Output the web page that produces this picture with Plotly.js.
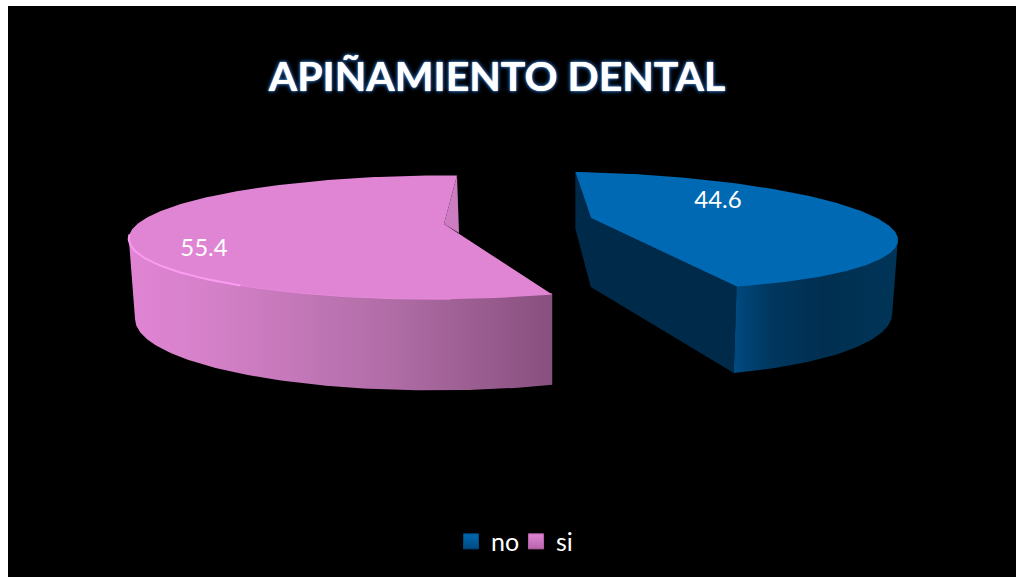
<!DOCTYPE html>
<html>
<head>
<meta charset="utf-8">
<script src="https://cdn.plot.ly/plotly-3.0.1.min.js"></script>
<style>html,body{margin:0;padding:0;background:#fff;overflow:hidden}</style>
</head>
<body>
<div id="chart" style="width:1016px;height:577px"></div>
<script>
// ---- chart data ----
const categories = ['no', 'si'];
const values = [44.6, 55.4];
const chartTitle = 'APIÑAMIENTO DENTAL';

// ---- look of each exploded slice (perspective projection of a tilted disc) ----
const k = 0.215;
const noStyle = {ax:591, ay:218, A:295, B:19, C:5.4, D:56, d:69, p:1, xv:578, e:0.018,
  top:'#0069b4', inner:'#002a49',
  side:[[0,'#004a80'],[0.22,'#00375f'],[0.55,'#002f50'],[1,'#003558']],
  swatch:'#0069b4', swatchEdge:'#004a80', label:[718,202]};
const siStyle = {ax:444, ay:224, A:304, B:-15.8, C:2, D:59, d:77, p:0.7, xv:552, e:0.015,
  top:'#e084d4', inner:'#cc7cc0',
  side:[[0,'#e084d4'],[0.2,'#d480c8'],[0.6,'#b26ea8'],[1,'#88507e']],
  swatch:'#e084d4', swatchEdge:'#b866ac', label:[204,250]};
const styles = [noStyle, siStyle];

// ---- slice angles from the values ----
const total = values.reduce((a,b)=>a+b,0);
let acc = 0;
const spans = values.map(v => { const s=[acc/total*360,(acc+v)/total*360]; acc+=v; return s; });

function proj(s, deg){
  const t = deg*Math.PI/180, X = Math.sin(t), Y = -Math.cos(t), w = 1-k*Y;
  return [s.ax+(s.A*X+s.B*Y)/w, s.ay+(s.C*X+s.D*Y)/w, w];
}
function low(s, p){ return [s.xv+(p[0]-s.xv)*(1-s.e), p[1]+s.d/Math.pow(p[2],s.p)]; }
function arc(a,b){ const o=[]; const n=Math.max(2,Math.ceil(Math.abs(b-a))); for(let i=0;i<=n;i++) o.push(a+(b-a)*i/n); return o; }
function shape(pts){ return {x:pts.map(p=>p[0]), y:pts.map(p=>p[1])}; }
function silhouette(s,a,b,sign){
  let best=a, bx=-Infinity;
  arc(a,b).forEach(d=>{ const v=sign*proj(s,d)[0]; if(v>bx){bx=v;best=d;} });
  return best;
}
function fillTrace(pts, color, gradient){
  const t = Object.assign(shape(pts), {type:'scatter', mode:'lines', line:{width:0}, fill:'toself',
    hoverinfo:'skip', showlegend:false, fillcolor:color});
  if(gradient) t.fillgradient = {type:'horizontal', colorscale:gradient};
  return t;
}
function wall(s,a,b){
  const rim=arc(a,b).map(d=>proj(s,d));
  const up=rim.map(p=>[p[0],p[1]-1.5]);
  return fillTrace(up.concat(rim.slice().reverse().map(p=>low(s,p))), s.side[0][1], s.side);
}

const traces = [];
// blue slice
(function(){
  const s=styles[0], [a,b]=spans[0];
  const start=proj(s,a), end=proj(s,b), apex=[s.ax,s.ay,1];
  const apexBottom=[s.xv+(s.ax-s.xv)*(1-s.e), s.ay+s.d];
  traces.push(fillTrace([start,apex,end,low(s,end),apexBottom,low(s,start)], s.inner));
  traces.push(wall(s,silhouette(s,a,b,1),b));
  traces.push(fillTrace([apex].concat(arc(a,b).map(d=>proj(s,d))), s.top));
})();
// pink slice
(function(){
  const s=styles[1], [a,b]=spans[1];
  const apex=[s.ax,s.ay], cut=proj(s,b), notch=[apex[0]+15, apex[1]+9];
  traces.push(fillTrace([cut,apex,notch], s.inner));
  traces.push(wall(s,a,silhouette(s,a,b,-1)));
  traces.push(fillTrace([apex].concat(arc(a,b).map(d=>proj(s,d))), s.top));
  const sil=silhouette(s,a,b,-1);
  const soft=arc(176,212).map(d=>proj(s,d));
  traces.push(Object.assign(shape(soft),{type:'scatter',mode:'lines',line:{color:'#e88ada',width:1},hoverinfo:'skip',showlegend:false}));
  const hl=arc(210,sil+4).map(d=>proj(s,d));
  traces.push(Object.assign(shape(hl),{type:'scatter',mode:'lines',line:{color:'#fb9cf0',width:2},hoverinfo:'skip',showlegend:false}));
})();
// value labels
traces.push({type:'scatter', mode:'text', x:styles.map(s=>s.label[0]), y:styles.map(s=>s.label[1]),
  text:values.map(v=>v.toFixed(1)), textposition:'middle center',
  textfont:{family:'Lato, sans-serif', size:24, color:'#ffffff'}, hoverinfo:'skip', showlegend:false});
// legend entries
categories.forEach((c,i)=>traces.push({type:'scatter', mode:'markers', x:[null], y:[null], name:c, showlegend:true,
  marker:{symbol:'square', size:15, color:styles[i].swatch, line:{color:styles[i].swatchEdge,width:1},
    gradient:{type:'vertical', color:styles[i].swatchEdge}}}));

const layout = {
  width:1016, height:577,
  margin:{l:8,r:0,t:6,b:0,pad:0},
  paper_bgcolor:'#ffffff', plot_bgcolor:'#000000',
  xaxis:{range:[8,1016], visible:false, fixedrange:true},
  yaxis:{range:[577,6], visible:false, fixedrange:true},
  showlegend:true,
  legend:{orientation:'h', x:0.504, xref:'paper', xanchor:'center', y:0.062, yanchor:'middle',
    bgcolor:'rgba(0,0,0,0)', font:{family:'Lato, sans-serif', size:25, color:'#ffffff'},
    itemwidth:30, traceorder:'normal', entrywidthmode:'pixels', entrywidth:20},
  title:{text:chartTitle, x:497/1016, xanchor:'center', xref:'container', y:1-77/577, yanchor:'middle', yref:'container',
    font:{family:'Lato, sans-serif', size:41, weight:700, color:'#ffffff',
      shadow:'0 0 1px #ffffff, 0 0 3px #1f5fa8, 0 0 4px #1b4f8a, 0 0 5px #143a68'}}
};
Plotly.newPlot('chart', traces, layout, {displayModeBar:false, staticPlot:true});
</script>
</body>
</html>
